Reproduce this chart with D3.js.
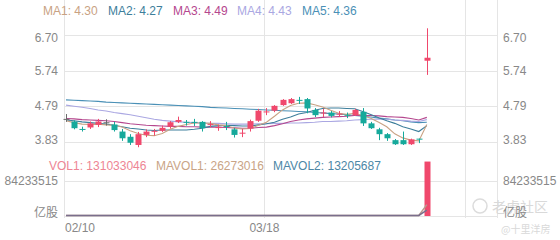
<!DOCTYPE html>
<html><head><meta charset="utf-8">
<script src="https://cdn.jsdelivr.net/npm/d3@7"></script>
<style>
html,body{margin:0;padding:0;background:#fff;}
svg{display:block;font-family:"Liberation Sans",Arial,sans-serif;}
</style></head><body>
<svg id="c" width="560" height="240"></svg>
<script>
// ---- data ----
const openP  = [4.45,4.38,4.18,4.22,4.29,4.36,4.30,4.11,3.97,3.75,4.02,4.12,4.13,4.24,4.37,4.37,4.37,4.37,4.30,4.22,4.26,4.17,4.07,4.19,4.40,4.64,4.67,4.82,4.87,4.96,4.98,4.69,4.61,4.62,4.58,4.56,4.55,4.64,4.33,4.17,4.04,3.88,3.88,3.77,3.92,6.01];
const closeP = [4.45,4.20,4.17,4.33,4.38,4.36,4.15,3.93,3.81,4.04,4.11,4.13,4.21,4.36,4.42,4.36,4.36,4.20,4.31,4.23,4.25,4.02,4.08,4.39,4.67,4.65,4.80,4.96,4.98,4.95,4.73,4.55,4.62,4.53,4.59,4.55,4.69,4.33,4.20,4.04,3.93,3.77,3.77,3.90,3.91,6.09];
const highP  = [4.58,4.41,4.24,4.38,4.45,4.44,4.37,4.18,4.04,4.10,4.17,4.18,4.27,4.39,4.51,4.42,4.45,4.39,4.39,4.30,4.37,4.21,4.18,4.43,4.72,4.74,4.82,4.98,5.01,5.04,5.01,4.74,4.72,4.66,4.66,4.62,4.72,4.74,4.37,4.21,4.07,3.91,4.11,3.92,3.92,6.88];
const lowP   = [4.37,4.17,4.11,4.18,4.23,4.27,4.11,3.86,3.75,3.69,3.96,4.00,4.10,4.19,4.34,4.27,4.26,4.11,4.23,4.13,4.15,3.95,3.96,4.11,4.37,4.55,4.63,4.80,4.85,4.85,4.60,4.50,4.50,4.49,4.50,4.47,4.53,4.26,4.18,3.88,3.86,3.75,3.75,3.75,3.80,5.63];
const volume = [92000,115000,78000,86000,101000,69000,124000,132000,97000,88000,76000,71000,83000,94000,105000,67000,72000,98000,64000,59000,61000,87000,73000,96000,142000,118000,109000,127000,113000,102000,121000,95000,68000,77000,62000,58000,84000,99000,91000,88000,79000,86000,83000,74000,88000,131033046];
const ma1 = [4.40,4.35,4.31,4.30,4.31,4.29,4.28,4.23,4.13,4.06,4.01,4.00,4.06,4.17,4.25,4.30,4.34,4.34,4.33,4.29,4.27,4.20,4.18,4.19,4.28,4.36,4.52,4.69,4.81,4.87,4.88,4.83,4.77,4.68,4.60,4.57,4.60,4.54,4.47,4.36,4.24,4.05,3.94,3.88,3.86,4.30];
const ma2 = [4.42,4.40,4.37,4.35,4.33,4.31,4.28,4.24,4.20,4.18,4.15,4.14,4.15,4.15,4.15,4.15,4.17,4.20,4.25,4.27,4.28,4.27,4.26,4.26,4.29,4.32,4.36,4.44,4.50,4.58,4.62,4.68,4.73,4.74,4.74,4.73,4.72,4.65,4.57,4.48,4.40,4.33,4.24,4.18,4.11,4.27];
const ma3 = [4.46,4.45,4.43,4.42,4.41,4.40,4.38,4.35,4.32,4.30,4.28,4.27,4.26,4.25,4.25,4.24,4.24,4.23,4.23,4.23,4.22,4.21,4.20,4.20,4.22,4.23,4.27,4.32,4.38,4.42,4.45,4.47,4.49,4.50,4.51,4.52,4.54,4.54,4.54,4.53,4.51,4.50,4.49,4.46,4.42,4.49];
const ma4 = [4.82,4.79,4.76,4.73,4.69,4.66,4.62,4.59,4.56,4.52,4.48,4.44,4.41,4.39,4.37,4.36,4.35,4.34,4.33,4.33,4.32,4.31,4.31,4.31,4.32,4.32,4.33,4.33,4.34,4.34,4.35,4.36,4.38,4.38,4.39,4.40,4.42,4.43,4.44,4.44,4.44,4.42,4.41,4.39,4.38,4.43];
const ma5 = [4.96,4.95,4.94,4.93,4.92,4.90,4.89,4.88,4.87,4.86,4.85,4.84,4.83,4.82,4.81,4.80,4.79,4.78,4.76,4.75,4.74,4.73,4.72,4.71,4.70,4.69,4.68,4.67,4.66,4.65,4.64,4.62,4.61,4.59,4.58,4.56,4.54,4.52,4.50,4.47,4.45,4.42,4.40,4.37,4.35,4.36];
const mavol1 = [95000,96000,97000,94000,94000,90000,95000,102000,105000,108000,103000,93000,83000,84000,86000,82000,78000,84000,81000,72000,71000,74000,77000,75000,92000,103000,110000,122000,120000,114000,114000,112000,100000,91000,85000,72000,70000,76000,79000,84000,88000,87000,85000,82000,82000,26273016];
const mavol2 = [98000,97000,96000,95000,95000,94000,95000,96000,97000,98000,96000,94000,93000,94000,94000,88000,85000,86000,83000,79000,77000,78000,79000,79000,82000,87000,91000,94000,99000,103000,109000,110000,110000,106000,101000,94000,91000,89000,85000,79000,79000,79000,80000,81000,84000,13205687];
const priceTicks = [3.83, 4.79, 5.74, 6.70];
const volTicks = [84233515];
const volUnit = "亿股";
const dateTickIndex = [0, 25];
const dateTickLabels = ["02/10", "03/18"];
const gridIndex = [0, 25, 50];
const maNames = ["MA1","MA2","MA3","MA4","MA5"];
const maLast = ["4.30","4.27","4.49","4.43","4.36"];
const volNames = ["VOL1","MAVOL1","MAVOL2"];
const volLast = ["131033046","26273016","13205687"];

// ---- style ----
const RED = "#f0486c", GREEN = "#16a99b", FLAT = "#6b6b6b";
const maColors = ["#c9a283","#3d7e9b","#b5478e","#aaa7e2","#4a90b6"];
const volLegendColors = ["#ee8594","#c9a486","#4d87a6"];
const GRID = "#e5e5e5", AXIS_TXT = "#888";

const svg = d3.select("#c");
const x = d3.scaleLinear().domain([-0.25, 53.75]).range([64, 497]);
const yP = d3.scaleLinear().domain([3.83, 6.70]).range([142, 35]);
const yV = d3.scaleLinear().domain([0, 84233515]).range([216, 181]);
const n = closeP.length;
const idx = d3.range(n);

// grid
const g = svg.append("g");
priceTicks.forEach(t => {
  const yy = Math.round(yP(t)) + 0.5;
  g.append("line").attr("x1", 64).attr("x2", 497).attr("y1", yy).attr("y2", yy).attr("stroke", GRID);
});
volTicks.forEach(t => {
  const yy = Math.round(yV(t)) + 0.5;
  g.append("line").attr("x1", 64).attr("x2", 497).attr("y1", yy).attr("y2", yy).attr("stroke", GRID);
});
g.append("line").attr("x1", 64).attr("x2", 497).attr("y1", yV(0)+0.5).attr("y2", yV(0)+0.5).attr("stroke", GRID);
gridIndex.concat([53.75 + 0.25]).forEach(i => {
  const xx = Math.round(x(i - 0.25)) + 0.5;
  g.append("line").attr("x1", xx).attr("x2", xx).attr("y1", 0).attr("y2", 218).attr("stroke", GRID);
});

// watermark
const wm = svg.append("g").attr("fill", "#d9d9d9");
wm.append("circle").attr("cx", 480).attr("cy", 206).attr("r", 7).attr("fill", "none").attr("stroke", "#dcdcdc").attr("stroke-width", 1.5);
wm.append("text").attr("x", 492).attr("y", 206).attr("dominant-baseline", "central")
  .attr("font-size", 14).attr("font-family", "Noto Sans CJK SC").text("老虎社区");
wm.append("text").attr("x", 501).attr("y", 228).attr("dominant-baseline", "central")
  .attr("font-size", 10).attr("font-family", "Noto Sans CJK SC").text("@十里洋房");

// axis labels
const ax = svg.append("g").attr("fill", AXIS_TXT).attr("font-size", 12);
priceTicks.forEach((t, k) => {
  const shift = k === priceTicks.length - 1 ? 3 : (k === 0 ? -2 : 0);
  const yy = yP(t) + shift;
  const lab = t.toFixed(2);
  ax.append("text").attr("x", 58).attr("y", yy).attr("text-anchor", "end").attr("dominant-baseline", "central").text(lab);
  ax.append("text").attr("x", 503).attr("y", yy).attr("dominant-baseline", "central").text(lab);
});
volTicks.forEach(t => {
  ax.append("text").attr("x", 58).attr("y", yV(t)).attr("text-anchor", "end").attr("dominant-baseline", "central").text(String(t));
  ax.append("text").attr("x", 503).attr("y", yV(t)).attr("dominant-baseline", "central").text(String(t));
});
ax.append("text").attr("x", 58).attr("y", yV(0) - 5).attr("text-anchor", "end").attr("dominant-baseline", "central")
  .attr("font-family", "Noto Sans CJK SC").text(volUnit);
ax.append("text").attr("x", 503).attr("y", yV(0) - 5).attr("dominant-baseline", "central")
  .attr("font-family", "Noto Sans CJK SC").text(volUnit);
dateTickIndex.forEach((i, k) => {
  const xx = x(i - 0.25);
  ax.append("text").attr("x", k === 0 ? xx + 1 : xx).attr("y", 228)
    .attr("text-anchor", k === 0 ? "start" : "middle").attr("dominant-baseline", "central").text(dateTickLabels[k]);
});

// MA lines
const line = arr => d3.line().x(i => x(i)).y(i => yP(arr[i]))(idx);
[ma5, ma4, ma3, ma2, ma1].forEach((arr, k) => {
  svg.append("path").attr("d", line(arr)).attr("fill", "none")
    .attr("stroke", maColors[4 - k]).attr("stroke-width", 1.1);
});

// candles
const cg = svg.append("g");
const bw = 6;
idx.forEach(i => {
  const o = openP[i], c = closeP[i];
  const col = c > o ? RED : (c < o ? GREEN : FLAT);
  const cx = Math.round(x(i));
  cg.append("line").attr("x1", cx + 0.5).attr("x2", cx + 0.5)
    .attr("y1", yP(highP[i])).attr("y2", yP(lowP[i])).attr("stroke", col).attr("stroke-width", 1);
  const top = yP(Math.max(o, c)), bot = yP(Math.min(o, c));
  cg.append("rect").attr("x", cx + 0.5 - bw / 2).attr("width", bw)
    .attr("y", top).attr("height", Math.max(1, bot - top)).attr("fill", col);
});

// volume
const vg = svg.append("g");
idx.forEach(i => {
  const col = closeP[i] >= openP[i] ? RED : GREEN;
  const cx = Math.round(x(i));
  const top = yV(volume[i]);
  vg.append("rect").attr("x", cx + 0.5 - bw / 2).attr("width", bw)
    .attr("y", top).attr("height", yV(0) - top).attr("fill", col);
});
const vline = arr => d3.line().x(i => x(i)).y(i => yV(arr[i]) - 0.5)(idx);
svg.append("path").attr("d", vline(mavol1)).attr("fill", "none").attr("stroke", "#b79a8e").attr("stroke-width", 1.5);
svg.append("path").attr("d", vline(mavol2)).attr("fill", "none").attr("stroke", "#7a6e8c").attr("stroke-width", 1.5);

// legends
const lg = svg.append("g").attr("font-size", 12);
const maX = [43, 108, 173, 237, 302];
maNames.forEach((nm, k) => {
  lg.append("text").attr("x", maX[k]).attr("y", 11).attr("dominant-baseline", "central")
    .attr("fill", maColors[k]).text(nm + ": " + maLast[k]);
});
const vX = [49, 156, 273];
volNames.forEach((nm, k) => {
  lg.append("text").attr("x", vX[k]).attr("y", 166).attr("dominant-baseline", "central")
    .attr("fill", volLegendColors[k]).text(nm + ": " + volLast[k]);
});
</script>
</body></html>
